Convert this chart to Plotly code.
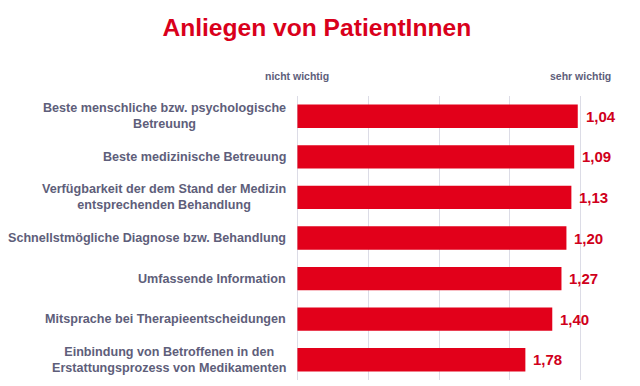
import plotly.graph_objects as go

categories = [
    "Beste menschliche bzw. psychologische<br>Betreuung",
    "Beste medizinische Betreuung",
    "Verfügbarkeit der dem Stand der Medizin<br>entsprechenden Behandlung",
    "Schnellstmögliche Diagnose bzw. Behandlung",
    "Umfassende Information",
    "Mitsprache bei Therapieentscheidungen",
    "Einbindung von Betroffenen in den<br>Erstattungsprozess von Medikamenten",
]
values = [1.04, 1.09, 1.13, 1.20, 1.27, 1.40, 1.78]
value_labels = ["1,04", "1,09", "1,13", "1,20", "1,27", "1,40", "1,78"]
scale_min = 5  # nicht wichtig
scale_max = 1  # sehr wichtig
scale_ticks = [5, 4, 3, 2, 1]
scale_labels = ["nicht wichtig", "sehr wichtig"]
title = "Anliegen von PatientInnen"

BAR = "#e2001a"
VAL = "#d0001b"
LBL = "#5e5e7a"
FONT = "Arial, Liberation Sans, sans-serif"

ids = [f"c{i}" for i in range(len(categories))]

fig = go.Figure()
fig.add_trace(go.Bar(
    y=ids,
    x=[v - scale_min for v in values],
    base=scale_min,
    orientation="h",
    marker=dict(color=BAR, line=dict(width=0)),
    width=0.575,
    hoverinfo="skip",
))

annotations = []
for cid, cat in zip(ids, categories):
    annotations.append(dict(
        x=0, xref="paper", y=cid, yref="y", xanchor="right", yanchor="middle",
        xshift=-8, text=cat, showarrow=False, align="center",
        font=dict(family=FONT, size=12.6, color=LBL, weight="bold"),
    ))
for cid, v, lab in zip(ids, values, value_labels):
    annotations.append(dict(
        x=v, xref="x", y=cid, yref="y", xanchor="left", yanchor="middle",
        xshift=6, text=lab, showarrow=False,
        font=dict(family=FONT, size=15, color=VAL, weight="bold"),
    ))
for xv, lab in zip([scale_min, scale_max], scale_labels):
    annotations.append(dict(
        x=xv, xref="x", y=1, yref="paper", xanchor="center", yanchor="middle",
        yshift=20, text=lab, showarrow=False,
        font=dict(family=FONT, size=10.5, color=LBL, weight="bold"),
    ))

pad = 0.02
fig.update_layout(
    width=640, height=386,
    paper_bgcolor="white", plot_bgcolor="white",
    margin=dict(l=296, r=58, t=96, b=6),
    showlegend=False,
    title=dict(
        text=title, x=0.495, xref="container", xanchor="center",
        y=1 - 27 / 386, yref="container", yanchor="middle",
        font=dict(family=FONT, size=24.6, color="#d9001b", weight="bold"),
    ),
    xaxis=dict(
        range=[scale_min + pad, scale_max - pad], tickvals=scale_ticks,
        showticklabels=False, showgrid=True, gridcolor="#dcdce6", gridwidth=1,
        zeroline=False, showline=False, fixedrange=True,
    ),
    yaxis=dict(
        categoryorder="array", categoryarray=ids, autorange="reversed",
        showticklabels=False, showgrid=False, zeroline=False, showline=False,
        fixedrange=True,
    ),
    annotations=annotations,
)

fig.write_html(
    "out.html",
    config={"displayModeBar": False},
    post_script="document.body.style.margin='0';document.body.style.overflow='hidden';",
)
